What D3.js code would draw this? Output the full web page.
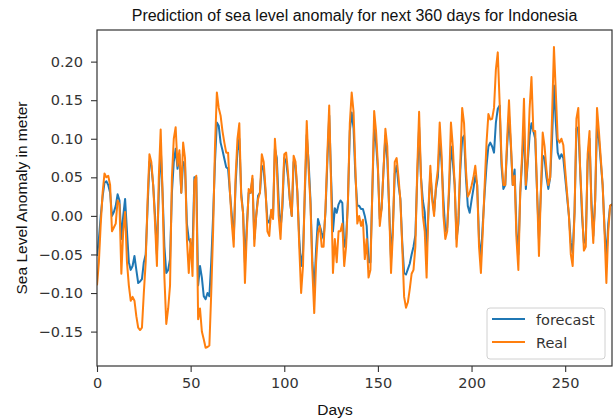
<!DOCTYPE html>
<html>
<head>
<meta charset="utf-8">
<script src="https://cdn.jsdelivr.net/npm/d3@7"></script>
<style>
  body { margin: 0; background: #fff; }
  svg { display: block; }
  .tick text { font-family: 'DejaVu Sans', sans-serif; font-size: 14.5px; fill: #333; }
  .lbl { font-family: 'Liberation Sans', Arial, sans-serif; fill: #111; }
</style>
</head>
<body>
<script>
// Sea level anomaly, one value per day
const forecast = [
  -0.052, -0.03, 0.0, 0.025, 0.043, 0.045, 0.04, 0.03, 0.0, 0.005,
  0.013, 0.028, 0.02, -0.03, 0.0, 0.022, -0.02, -0.06, -0.07, -0.065,
  -0.052, -0.07, -0.087, -0.085, -0.082, -0.06, -0.05, 0.01, 0.07, 0.065,
  0.04, 0.0, -0.05, 0.03, 0.09, 0.03, -0.04, -0.074, -0.07, -0.056,
  0.03, 0.07, 0.087, 0.061, 0.08, 0.03, 0.07, 0.065, -0.01, -0.03,
  -0.035, -0.045, 0.05, 0.05, -0.09, -0.065, -0.08, -0.104, -0.108, -0.1,
  -0.104, -0.06, 0.0, 0.07, 0.121, 0.117, 0.095, 0.085, 0.074, 0.063,
  0.061, 0.03, 0.0, -0.03, 0.04, 0.085, 0.1, 0.03, 0.004, -0.061,
  -0.013, 0.03, 0.03, 0.048, -0.03, 0.0, 0.026, 0.03, 0.065, 0.06,
  0.03, -0.005, -0.009, 0.004, 0.0, 0.087, 0.075, 0.02, -0.017, 0.01,
  0.075, 0.07, 0.05, 0.02, 0.0, 0.07, 0.065, 0.03, -0.03, -0.065,
  -0.048, 0.03, 0.105, 0.07, 0.02, -0.06, -0.095, -0.043, -0.004, -0.013,
  -0.022, -0.03, 0.005, 0.07, 0.13, 0.05, -0.02, 0.01, 0.004, 0.015,
  0.02, 0.017, -0.04, -0.03, 0.02, 0.11, 0.134, 0.113, 0.05, 0.013,
  0.013, 0.009, 0.009, 0.0, -0.013, -0.06, -0.06, 0.03, 0.117, 0.095,
  0.06, -0.004, 0.01, 0.06, 0.104, 0.074, 0.01, -0.056, -0.013, 0.055,
  0.065, 0.04, 0.022, -0.035, -0.074, -0.076, -0.069, -0.062, -0.05, -0.04,
  -0.025, 0.05, 0.115, 0.05, 0.02, 0.005, -0.045, 0.005, 0.055, 0.025,
  0.005, 0.035, 0.05, 0.1, 0.07, 0.02, -0.02, -0.015, 0.03, 0.09,
  0.07, 0.04, -0.03, -0.01, 0.06, 0.1, 0.104, 0.05, 0.013, 0.004,
  0.02, 0.035, 0.052, 0.04, -0.03, -0.056, -0.01, 0.03, 0.065, 0.09,
  0.095, 0.09, 0.082, 0.121, 0.139, 0.143, 0.065, 0.035, 0.04, 0.09,
  0.13, 0.09, 0.04, 0.06, -0.02, -0.05, 0.03, 0.07, 0.117, 0.035,
  0.069, 0.104, 0.12, 0.11, 0.1, 0.03, -0.03, 0.03, 0.078, 0.075,
  0.05, 0.035, 0.05, 0.1, 0.169, 0.121, 0.082, 0.074, 0.08, 0.075,
  0.05, 0.025, 0.0, -0.035, -0.048, 0.005, 0.113, 0.115, 0.06, 0.0,
  -0.035, -0.03, 0.07, 0.1, 0.02, -0.026, 0.02, 0.12, 0.1, 0.07,
  0.04, -0.015, -0.056, -0.01, 0.013, 0.015
]

const real = [
  -0.09, -0.06, -0.01, 0.03, 0.055, 0.05, 0.052, 0.04, -0.02, -0.015,
  -0.01, 0.02, 0.015, -0.075, -0.02, 0.005, -0.06, -0.09, -0.11, -0.105,
  -0.11, -0.13, -0.145, -0.148, -0.145, -0.1, -0.06, 0.02, 0.08, 0.07,
  0.04, -0.01, -0.065, 0.05, 0.112, 0.03, -0.08, -0.14, -0.12, -0.09,
  0.05, 0.1, 0.115, 0.065, 0.085, 0.03, 0.095, 0.075, -0.03, -0.074,
  -0.03, -0.078, 0.045, 0.052, -0.134, -0.12, -0.15, -0.16, -0.171, -0.17,
  -0.168, -0.1, -0.02, 0.09, 0.16, 0.14, 0.13, 0.11, 0.095, 0.082,
  0.082, 0.03, -0.01, -0.04, 0.05, 0.1, 0.12, 0.025, 0.004, -0.087,
  -0.022, 0.035, 0.03, 0.052, -0.039, 0.0, 0.022, 0.03, 0.08, 0.07,
  0.035, -0.02, -0.026, 0.008, -0.004, 0.1, 0.065, 0.0, -0.03, 0.02,
  0.08, 0.082, 0.056, 0.02, 0.0, 0.078, 0.07, 0.03, -0.04, -0.1,
  -0.065, 0.039, 0.123, 0.06, 0.015, -0.07, -0.126, -0.06, -0.022, -0.013,
  -0.04, -0.04, 0.01, 0.08, 0.143, 0.04, -0.074, -0.03, -0.06, -0.02,
  -0.02, -0.01, -0.065, -0.04, 0.02, 0.12, 0.16, 0.135, 0.06, -0.01,
  0.0, -0.013, -0.005, -0.056, -0.03, -0.08, -0.07, 0.03, 0.136, 0.11,
  0.065, -0.013, 0.01, 0.06, 0.113, 0.09, 0.01, -0.074, -0.022, 0.07,
  0.075, 0.05, 0.02, -0.04, -0.105, -0.119, -0.112, -0.095, -0.075, -0.07,
  -0.04, 0.06, 0.135, 0.05, 0.0, -0.02, -0.08, 0.01, 0.065, 0.02,
  0.0, 0.04, 0.06, 0.121, 0.08, 0.0, -0.03, -0.02, 0.04, 0.121,
  0.09, 0.04, -0.04, 0.0, 0.07, 0.14, 0.12, 0.06, 0.025, 0.03,
  0.039, 0.05, 0.065, 0.04, -0.04, -0.074, -0.02, 0.04, 0.095, 0.132,
  0.125, 0.126, 0.14, 0.19, 0.212, 0.147, 0.074, 0.04, 0.04, 0.1,
  0.15, 0.095, 0.04, 0.052, -0.03, -0.07, 0.03, 0.08, 0.152, 0.04,
  0.074, 0.139, 0.18, 0.11, 0.11, 0.03, -0.052, 0.03, 0.108, 0.09,
  0.06, 0.04, 0.05, 0.13, 0.219, 0.16, 0.1, 0.095, 0.1, 0.092,
  0.06, 0.03, 0.0, -0.05, -0.065, 0.004, 0.126, 0.14, 0.06, 0.01,
  -0.045, -0.04, 0.08, 0.11, 0.01, -0.035, 0.02, 0.14, 0.11, 0.075,
  0.04, -0.02, -0.087, -0.02, 0.013, 0.015
]

const xTicks = [0, 50, 100, 150, 200, 250]
const yTicks = [-0.15, -0.10, -0.05, 0.00, 0.05, 0.10, 0.15, 0.20]
const seriesNames = ['forecast', 'Real']
const seriesColors = ['#1f77b4', '#ff7f0e']

const width = 616
const height = 419
const margin = { top: 30, right: 4, bottom: 53, left: 97 }

const x = d3.scaleLinear()
  .domain([0, real.length - 1])
  .range([margin.left, width - margin.right])

const y = d3.scaleLinear()
  .domain([-0.1946, 0.241])
  .range([height - margin.bottom, margin.top])

const svg = d3.select('body').append('svg')
  .attr('width', width)
  .attr('height', height)

const clip = svg.append('clipPath').attr('id', 'plot')
clip.append('rect')
  .attr('x', margin.left)
  .attr('y', margin.top)
  .attr('width', width - margin.left - margin.right)
  .attr('height', height - margin.top - margin.bottom)

const line = d3.line()
  .x(function (d, i) { return x(i) })
  .y(function (d) { return y(d) })

const plot = svg.append('g').attr('clip-path', 'url(#plot)')

;[forecast, real].forEach(function (data, k) {
  plot.append('path')
    .datum(data)
    .attr('fill', 'none')
    .attr('stroke', seriesColors[k])
    .attr('stroke-width', 2)
    .attr('stroke-linejoin', 'round')
    .attr('d', line)
})

// frame
svg.append('rect')
  .attr('x', margin.left)
  .attr('y', margin.top)
  .attr('width', width - margin.left - margin.right)
  .attr('height', height - margin.top - margin.bottom)
  .attr('fill', 'none')
  .attr('stroke', '#333')
  .attr('stroke-width', 1.2)

const xAxis = svg.append('g')
  .attr('transform', 'translate(0,' + (height - margin.bottom) + ')')
  .call(d3.axisBottom(x).tickValues(xTicks).tickSize(6).tickPadding(6).tickFormat(d3.format('d')))

const yAxis = svg.append('g')
  .attr('transform', 'translate(' + margin.left + ',0)')
  .call(d3.axisLeft(y).tickValues(yTicks).tickSize(6).tickPadding(8).tickFormat(d3.format('.2f')))

;[xAxis, yAxis].forEach(function (ax) {
  ax.select('.domain').remove()
  ax.selectAll('.tick line').attr('stroke', '#333').attr('stroke-width', 1.1)
})

svg.append('text')
  .attr('class', 'lbl')
  .attr('x', (margin.left + width - margin.right) / 2)
  .attr('y', 21)
  .attr('text-anchor', 'middle')
  .style('font-size', '16px')
  .text('Prediction of sea level anomaly for next 360 days for Indonesia')

svg.append('text')
  .attr('class', 'lbl')
  .attr('x', 335)
  .attr('y', 415)
  .attr('text-anchor', 'middle')
  .style('font-size', '15.5px')
  .text('Days')

svg.append('text')
  .attr('class', 'lbl')
  .attr('transform', 'translate(27,' + ((margin.top + height - margin.bottom) / 2) + ') rotate(-90)')
  .attr('text-anchor', 'middle')
  .style('font-size', '15.5px')
  .text('Sea Level Anomaly in meter')

// legend
const legend = svg.append('g').attr('transform', 'translate(487,308)')
legend.append('rect')
  .attr('width', 118)
  .attr('height', 51)
  .attr('rx', 3)
  .attr('fill', '#fff')
  .attr('fill-opacity', 0.8)
  .attr('stroke', '#d0d0d0')

seriesNames.forEach(function (name, i) {
  const row = legend.append('g').attr('transform', 'translate(0,' + (11 + i * 23) + ')')
  row.append('line')
    .attr('x1', 5).attr('x2', 38)
    .attr('stroke', seriesColors[i])
    .attr('stroke-width', 2)
  row.append('text')
    .attr('x', 49)
    .attr('y', 5.5)
    .style('font-family', "'DejaVu Sans', sans-serif")
    .style('font-size', '14.5px')
    .attr('fill', '#333')
    .text(name)
})
</script>
</body>
</html>
